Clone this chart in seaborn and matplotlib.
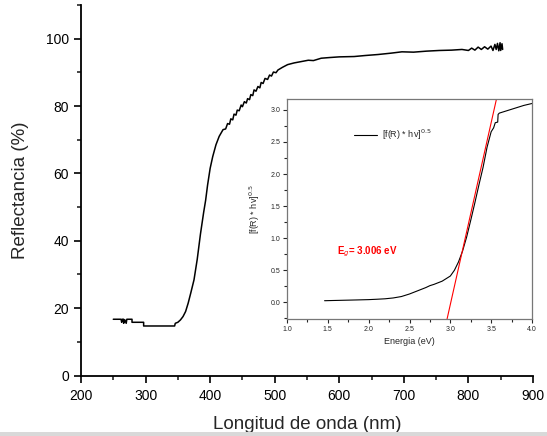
import numpy as np
import pandas as pd
import matplotlib.pyplot as plt
import seaborn as sns
from matplotlib.ticker import MultipleLocator
from matplotlib.patches import Rectangle

# reflectance spectrum (main plot)
wavelength = [250, 262, 263, 264, 266, 266, 268, 270, 271, 279, 279, 297, 297, 345, 346, 350, 354,
              358, 362, 366, 370, 375, 380, 385, 390, 393, 396, 400, 404, 409, 414, 420, 424, 427,
              430, 432, 435, 437, 440, 442, 445, 448, 450, 453, 456, 458, 461, 463, 466, 468, 471,
              474, 477, 479, 482, 485, 489, 492, 495, 498, 502, 505, 512, 520, 530, 541,
              552, 560, 572, 585, 600, 623, 640, 660, 680, 697, 715, 735, 755, 774, 790, 800, 805,
              810, 815, 820, 825, 830, 835, 838, 841, 843, 845, 847, 849, 850, 852, 853]
reflectance = [16.7, 16.7, 15.8, 16.7, 16.7, 15.5, 16.5, 15.5, 16.7, 16.7, 15.8, 15.8, 14.7, 14.7,
               15.5, 15.8, 16.5, 17.5, 19.0, 21.5, 24.5, 28.4, 34.5, 42.0, 48.5, 52.0, 56.5, 61.5,
               65.0, 68.5, 71.0, 73.0, 73.2, 74.8, 74.6, 76.2, 75.9, 77.6, 77.3, 78.8, 78.6, 80.3,
               79.8, 81.3, 80.9, 82.2, 81.9, 83.4, 83.1, 84.8, 84.4, 85.8, 85.4, 87.0, 86.7, 88.2,
               87.9, 89.2, 88.9, 90.1, 89.9, 90.7, 91.5, 92.3, 92.8, 93.2, 93.6, 93.5, 94.2, 94.4,
               94.6, 94.7, 95.0, 95.3, 95.7, 96.1, 96.0, 96.3, 96.5, 96.6, 96.8, 96.5, 97.2, 96.6,
               97.5, 96.8, 97.6, 96.9, 97.8, 96.5, 98.3, 96.8, 98.6, 96.4, 98.8, 96.5, 98.5, 96.8]

# Kubelka-Munk transform (inset)
energy = [1.46, 1.55, 1.65, 1.75, 1.85, 2.0, 2.1, 2.2, 2.3, 2.4, 2.5, 2.6, 2.7, 2.75, 2.8, 2.9,
          2.95, 3.0, 3.05, 3.1, 3.15, 3.2, 3.25, 3.3, 3.35, 3.4, 3.45, 3.5, 3.53, 3.55, 3.58,
          3.585, 3.6, 3.7, 3.8, 3.9, 4.0]
km = [0.025, 0.028, 0.031, 0.034, 0.037, 0.042, 0.048, 0.055, 0.068, 0.09, 0.13, 0.18, 0.23,
      0.26, 0.28, 0.33, 0.37, 0.41, 0.5, 0.63, 0.8, 1.02, 1.28, 1.55, 1.83, 2.1, 2.42, 2.66,
      2.72, 2.8, 2.81, 2.93, 2.95, 2.99, 3.03, 3.07, 3.1]
fit_energy = [2.96, 3.565]
fit_km = [-0.26, 3.17]

spec = pd.DataFrame({"wl": wavelength, "R": reflectance})
kmdf = pd.DataFrame({"E": energy, "F": km})
fitdf = pd.DataFrame({"E": fit_energy, "F": fit_km})

sns.set_style("ticks")
plt.rcParams["font.family"] = ["Liberation Sans", "DejaVu Sans"]

fig = plt.figure(figsize=(5.47, 4.36), dpi=100)
ax = fig.add_axes([81 / 547, (436 - 375.5) / 436, (533 - 81) / 547, (375.5 - 5) / 436])
sns.lineplot(data=spec, x="wl", y="R", sort=False, estimator=None, color="black", lw=1.1, ax=ax)
ax.set_xlim(200, 900)
ax.set_ylim(0, 110)
ax.xaxis.set_major_locator(MultipleLocator(100))
ax.xaxis.set_minor_locator(MultipleLocator(50))
ax.yaxis.set_major_locator(MultipleLocator(20))
ax.yaxis.set_minor_locator(MultipleLocator(10))
ax.set_yticks([0, 20, 40, 60, 80, 100])
ax.tick_params(which="major", length=5, width=1.2, labelsize=10, colors="black")
ax.tick_params(axis="x", which="major", pad=5)
ax.tick_params(which="minor", length=3, width=1.2)
ax.set_xlabel("Longitud de onda (nm)", fontsize=13.5, labelpad=9)
ax.set_ylabel("Reflectancia (%)", fontsize=13.5, labelpad=12)
sns.despine(ax=ax)
for s in ["left", "bottom"]:
    ax.spines[s].set_linewidth(1.3)
    ax.spines[s].set_color("black")

# inset
ins = fig.add_axes([287 / 547, (436 - 319) / 436, 245 / 547, 220 / 436])
sns.lineplot(data=kmdf, x="E", y="F", sort=False, estimator=None, color="black", lw=0.8,
             ax=ins, label="[f(R) * hv]$^{0.5}$")
sns.lineplot(data=fitdf, x="E", y="F", sort=False, estimator=None, color="red", lw=0.8, ax=ins)
ins.set_xlim(1.0, 4.0)
ins.set_ylim(-0.26, 3.17)
ins.xaxis.set_major_locator(MultipleLocator(0.5))
ins.xaxis.set_minor_locator(MultipleLocator(0.25))
ins.yaxis.set_major_locator(MultipleLocator(0.5))
ins.yaxis.set_minor_locator(MultipleLocator(0.25))
ins.set_yticks([0.0, 0.5, 1.0, 1.5, 2.0, 2.5, 3.0])
ins.tick_params(which="major", length=3, width=0.8, labelsize=5, pad=2)
ins.tick_params(which="minor", length=2, width=0.8)
for s in ins.spines.values():
    s.set_color("#777777")
    s.set_linewidth(0.9)
ins.set_xlabel("Energia (eV)", fontsize=6.5, labelpad=3)
ins.set_ylabel("[f(R) * hv]$^{0.5}$", fontsize=6.5, labelpad=6)
ins.legend(loc="center left", bbox_to_anchor=(0.24, 0.836), frameon=False, fontsize=6.5,
           handlelength=2.6, handletextpad=0.5)
ins.text(1.61, 0.78, "E$_g$= 3.006 eV", color="red", fontsize=7, fontweight="bold", va="center")

fig.add_artist(Rectangle((0, 0), 1, 4 / 436, transform=fig.transFigure, color="#d9d9d9", lw=0))

plt.savefig("out.png", dpi=100)
